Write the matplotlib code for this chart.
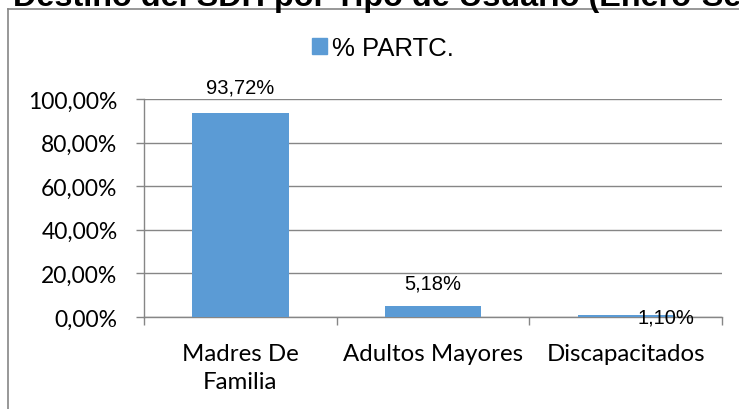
import numpy as np
import matplotlib.pyplot as plt
from matplotlib.patches import Patch
from matplotlib.ticker import FuncFormatter

# datos
categorias = ["Madres De\nFamilia", "Adultos Mayores", "Discapacitados"]
valores = [0.9372, 0.0518, 0.0110]
etiquetas = ["93,72%", "5,18%", "1,10%"]
serie = "% PARTC."
titulo = "Destino del SDH por Tipo de Usuario (Enero-Septiembre)"

azul = "#5B9BD5"
gris = "#868686"

fig = plt.figure(figsize=(7.39, 4.10), dpi=100)
fig.patch.set_facecolor("white")

# titulo cortado arriba (asi sale en la imagen original)
fig.text(13 / 739, 1 - 6 / 410, titulo, fontsize=23.3, fontweight="bold",
         family="Liberation Sans", ha="left", va="baseline")

# marco del grafico (solo se ven izquierda y arriba)
fig.add_artist(plt.Line2D([8 / 739, 8 / 739], [0, 1 - 10 / 410], color=gris, lw=1.2))
fig.add_artist(plt.Line2D([8 / 739, 1], [1 - 10 / 410, 1 - 10 / 410], color=gris, lw=1.2))

ax = fig.add_axes([144 / 739, 92 / 410, (722 - 144) / 739, (318 - 100) / 410])
x = np.arange(len(categorias))
barras = ax.bar(x, valores, width=0.5, color=azul, zorder=3)

ax.set_xlim(-0.5, len(categorias) - 0.5)
ax.set_ylim(0, 1.0)
ax.set_yticks(np.arange(0, 1.01, 0.2))
ax.yaxis.set_major_formatter(FuncFormatter(lambda v, p: f"{v*100:.2f}%".replace(".", ",")))
ax.yaxis.grid(True, color=gris, lw=1, zorder=0)

ax.set_xticks(x)
ax.set_xticklabels(categorias, family="Lato", fontsize=17.3, linespacing=1.4)
ax.set_xticks(np.arange(-0.5, len(categorias), 1), minor=True)
ax.tick_params(axis="x", which="major", length=0, pad=19)
ax.tick_params(axis="x", which="minor", length=6, color=gris, width=1)
ax.tick_params(axis="y", length=6, color=gris, width=1, pad=13)
for t in ax.get_yticklabels():
    t.set_family("Lato")
    t.set_fontsize(16.5)

for s in ["top", "right"]:
    ax.spines[s].set_visible(False)
for s in ["left", "bottom"]:
    ax.spines[s].set_color(gris)
    ax.spines[s].set_linewidth(1)

# etiquetas de datos (desplazamiento en pixeles)
desplaz = [(0, 16), (0, 13), (40, -2)]
for i, b in enumerate(barras):
    ax.annotate(etiquetas[i], (b.get_x() + b.get_width() / 2, b.get_height()),
                xytext=desplaz[i], textcoords="offset pixels", ha="center",
                va="bottom" if i < 2 else "center", fontsize=14.5,
                family="Liberation Sans", zorder=4)

fig.legend(handles=[Patch(color=azul, label=serie)], loc="center",
           bbox_to_anchor=(383 / 739, 1 - 49 / 410), frameon=False,
           handlelength=0.55, handleheight=0.55, handletextpad=0.2,
           prop={"family": "Liberation Sans", "size": 18.5})

fig.savefig("out.png", dpi=100)
